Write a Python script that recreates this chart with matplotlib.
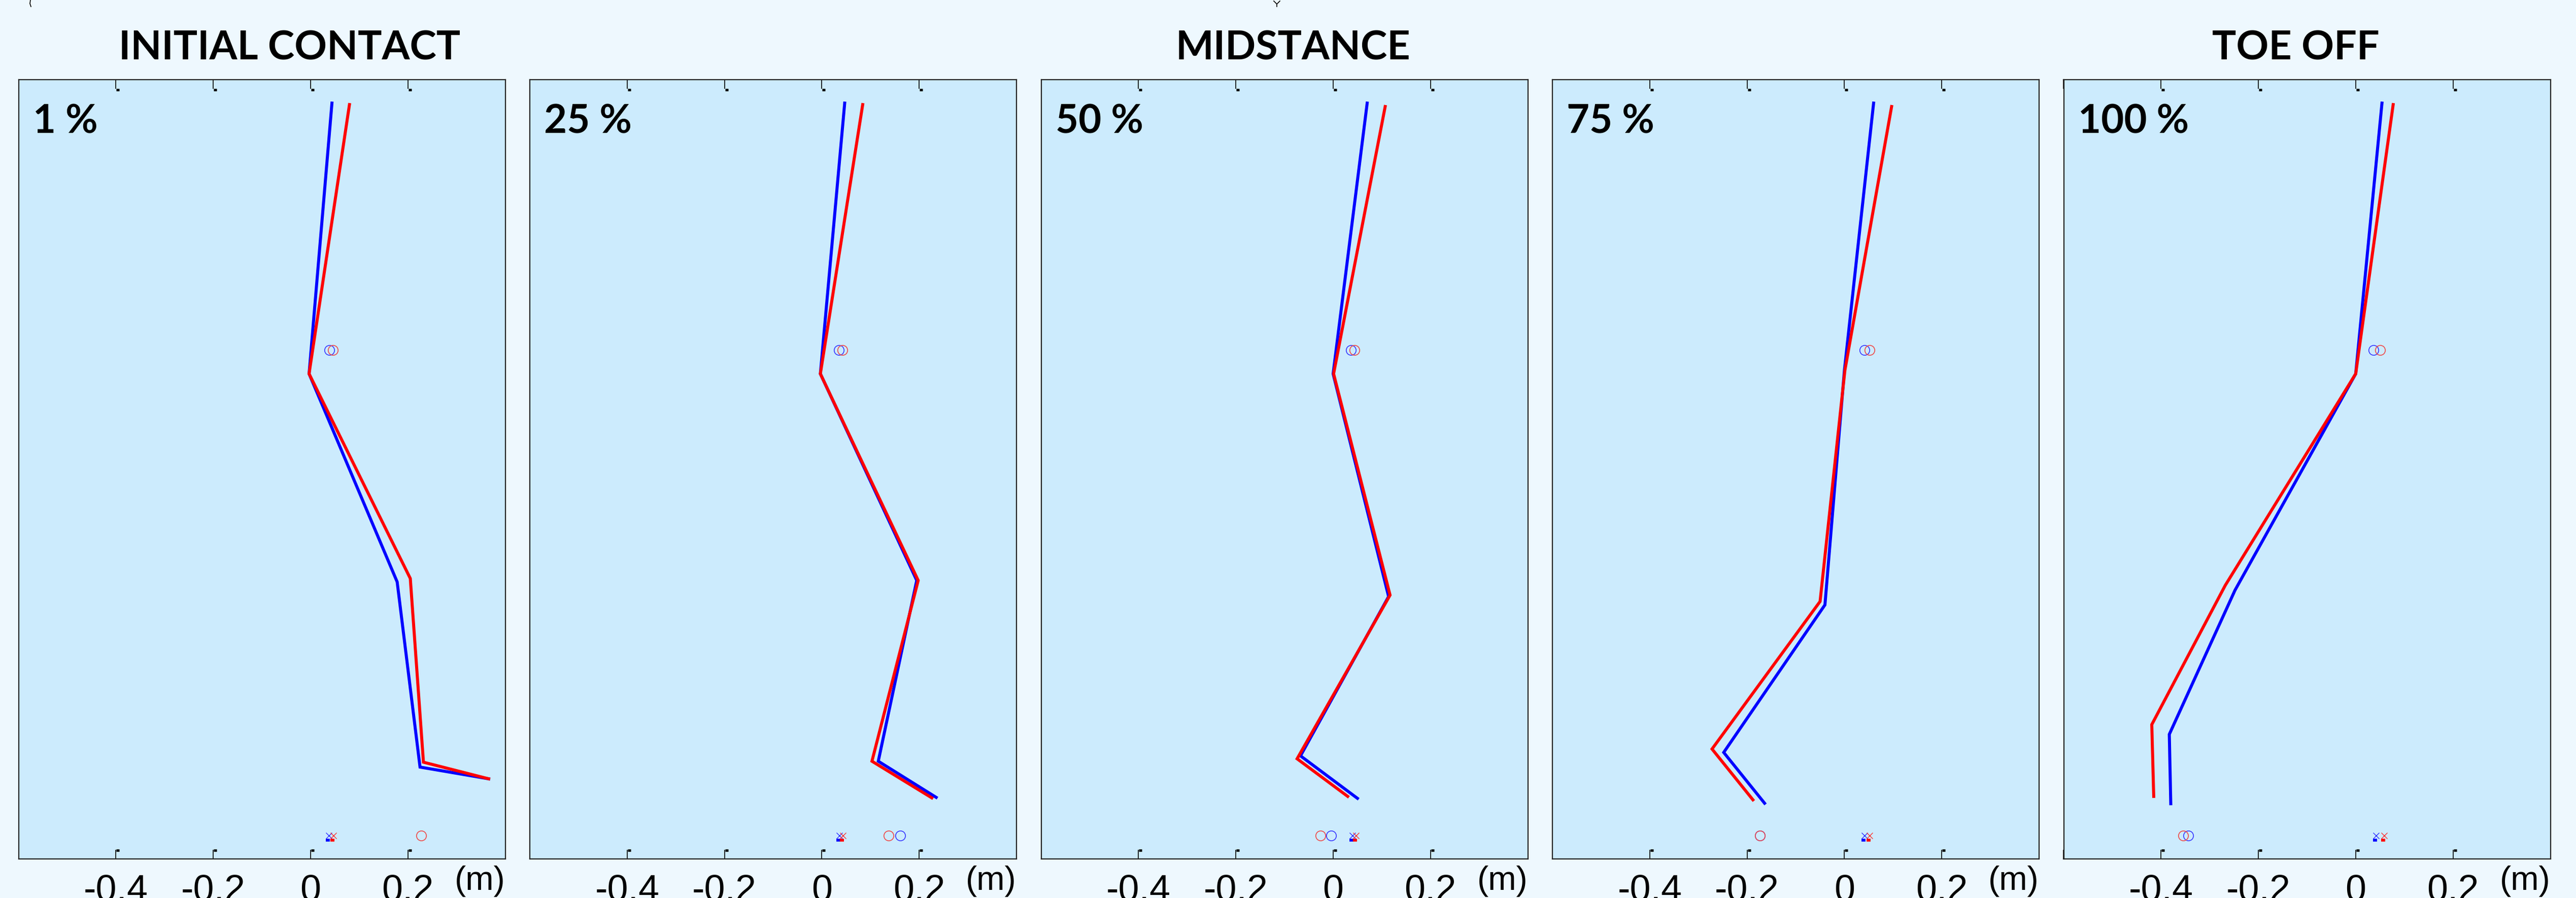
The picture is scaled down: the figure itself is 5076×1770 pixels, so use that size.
import matplotlib.pyplot as plt
from matplotlib.lines import Line2D
from matplotlib.transforms import offset_copy

# gait phases: stick figure (top, hip, knee, ankle, toe) for two subjects
phase_labels = ['1 %', '25 %', '50 %', '75 %', '100 %']
phase_titles = {0: 'INITIAL CONTACT', 2: 'MIDSTANCE', 4: 'TOE OFF'}

blue_x = [
    [0.044, -0.003, 0.178, 0.225, 0.366],
    [0.047, -0.003, 0.195, 0.116, 0.235],
    [0.070, 0.000, 0.114, -0.067, 0.050],
    [0.060, 0.000, -0.040, -0.248, -0.164],
    [0.054, 0.000, -0.248, -0.383, -0.380],
]
blue_y = [
    [1.547, 0.993, 0.567, 0.188, 0.164],
    [1.547, 0.993, 0.570, 0.200, 0.126],
    [1.547, 0.993, 0.537, 0.211, 0.124],
    [1.547, 1.000, 0.520, 0.218, 0.114],
    [1.547, 0.993, 0.550, 0.255, 0.113],
]
red_x = [
    [0.080, -0.003, 0.205, 0.232, 0.366],
    [0.084, -0.003, 0.198, 0.103, 0.226],
    [0.107, 0.001, 0.117, -0.074, 0.030],
    [0.097, 0.001, -0.050, -0.272, -0.188],
    [0.077, 0.000, -0.268, -0.419, -0.415],
]
red_y = [
    [1.544, 0.993, 0.574, 0.198, 0.164],
    [1.544, 0.993, 0.570, 0.200, 0.125],
    [1.540, 0.993, 0.540, 0.205, 0.128],
    [1.540, 1.000, 0.527, 0.225, 0.121],
    [1.544, 0.993, 0.560, 0.275, 0.128],
]

# centre-of-mass markers (circles near the hip)
com_y = 1.042
com_blue_x = [0.039, 0.035, 0.037, 0.041, 0.037]
com_red_x = [0.046, 0.042, 0.044, 0.052, 0.050]

# ground markers: circles (CoP) and crosses
ground_y = 0.048
cop_blue_x = [None, 0.161, -0.004, -0.173, -0.344]
cop_red_x = [0.227, 0.137, -0.026, -0.173, -0.354]
cross_blue_x = [0.038, 0.036, 0.040, 0.041, 0.042]
cross_red_x = [0.047, 0.043, 0.047, 0.052, 0.058]

tick_pos = [-0.6, -0.4, -0.2, 0, 0.2, 0.4]
tick_txt = ['', '-0.4', '-0.2', '0', '0.2', '']

W, H = 5076, 1770
fig = plt.figure(figsize=(W / 100, H / 100), dpi=100)
fig.patch.set_facecolor('#EEF8FE')

BLUE = '#0000FF'
RED = '#FF0000'

for i in range(5):
    left = (36.5 + i * 1007.5) / W
    ax = fig.add_axes([left, 77 / H, 959 / W, 1536 / H])
    ax.set_facecolor('#CCEBFD')
    ax.set_xlim(-0.6, 0.4)
    ax.set_ylim(0, 1.595)

    ax.plot(blue_x[i], blue_y[i], color=BLUE, lw=4.3, solid_joinstyle='miter', zorder=3)
    ax.plot(red_x[i], red_y[i], color=RED, lw=4.3, solid_joinstyle='miter', zorder=4)

    ax.plot(com_blue_x[i], com_y, 'o', mfc='none', mec='#3838FF', ms=14, mew=1.2, zorder=5)
    ax.plot(com_red_x[i], com_y, 'o', mfc='none', mec='#F04848', ms=14, mew=1.2, zorder=5)

    if cop_blue_x[i] is not None:
        ax.plot(cop_blue_x[i], ground_y, 'o', mfc='none', mec='#3838FF', ms=14, mew=1.2)
    ax.plot(cop_red_x[i], ground_y, 'o', mfc='none', mec='#F04848', ms=14, mew=1.2)

    below = offset_copy(ax.transData, fig=fig, x=-2, y=-9, units='dots')
    ax.plot(cross_blue_x[i], ground_y, 'x', color='#3030FF', ms=9, mew=1.0)
    ax.plot(cross_blue_x[i], ground_y, '_', color=BLUE, ms=6, mew=4, transform=below)
    ax.plot(cross_red_x[i], ground_y, 'x', color='#FF3030', ms=9, mew=1.0)
    ax.plot(cross_red_x[i], ground_y, '_', color=RED, ms=6, mew=4, transform=below)

    ax.set_xticks(tick_pos)
    ax.set_xticklabels(tick_txt, family='Liberation Sans', fontsize=53)
    ax.tick_params(axis='x', direction='in', length=13, width=1.2, color='black',
                   top=True, bottom=True, pad=21)
    ax.set_yticks([])
    for side, sp in ax.spines.items():
        sp.set_color('#222222')
        sp.set_linewidth(1.6)

    # little flags at the inner end of each tick
    ymin, ymax = ax.get_ylim()
    flag_bot = offset_copy(ax.transData, fig=fig, x=4, y=17, units='dots')
    flag_top = offset_copy(ax.transData, fig=fig, x=4, y=-20, units='dots')
    ax.plot(tick_pos[1:-1], [ymin] * 4, '_', color='black', ms=5, mew=3.5,
            transform=flag_bot, clip_on=False)
    ax.plot(tick_pos[1:-1], [ymax] * 4, '_', color='black', ms=5, mew=3.5,
            transform=flag_top, clip_on=False)

    ax.text(0.0297, 0.9316, phase_labels[i], transform=ax.transAxes,
            family='Lato', fontweight='bold', fontsize=56, va='baseline', ha='left')
    ax.text(1.0, -0.04, '(m)', transform=ax.transAxes, family='Liberation Sans',
            fontsize=48, ha='right', va='baseline')

title_x = {0: 571 / W, 2: 2548 / W, 4: 4524 / W}
for i, t in phase_titles.items():
    fig.text(title_x[i], 1 - 117 / H, t, family='Lato', fontweight='bold',
             fontsize=57, ha='center', va='baseline')

# stray strokes along the top edge
fig.add_artist(Line2D([60 / W, 59 / W, 61 / W], [1.0, 1 - 7 / H, 1 - 13 / H],
                      transform=fig.transFigure, color='black', lw=1.2))
fig.add_artist(Line2D([2510 / W, 2516 / W, 2522 / W], [1 - 2 / H, 1 - 8 / H, 1 - 2 / H],
                      transform=fig.transFigure, color='black', lw=1.2))
fig.add_artist(Line2D([2516 / W, 2516 / W], [1 - 8 / H, 1 - 13 / H],
                      transform=fig.transFigure, color='black', lw=1.2))

fig.savefig('out.png', dpi=100, facecolor=fig.get_facecolor())
